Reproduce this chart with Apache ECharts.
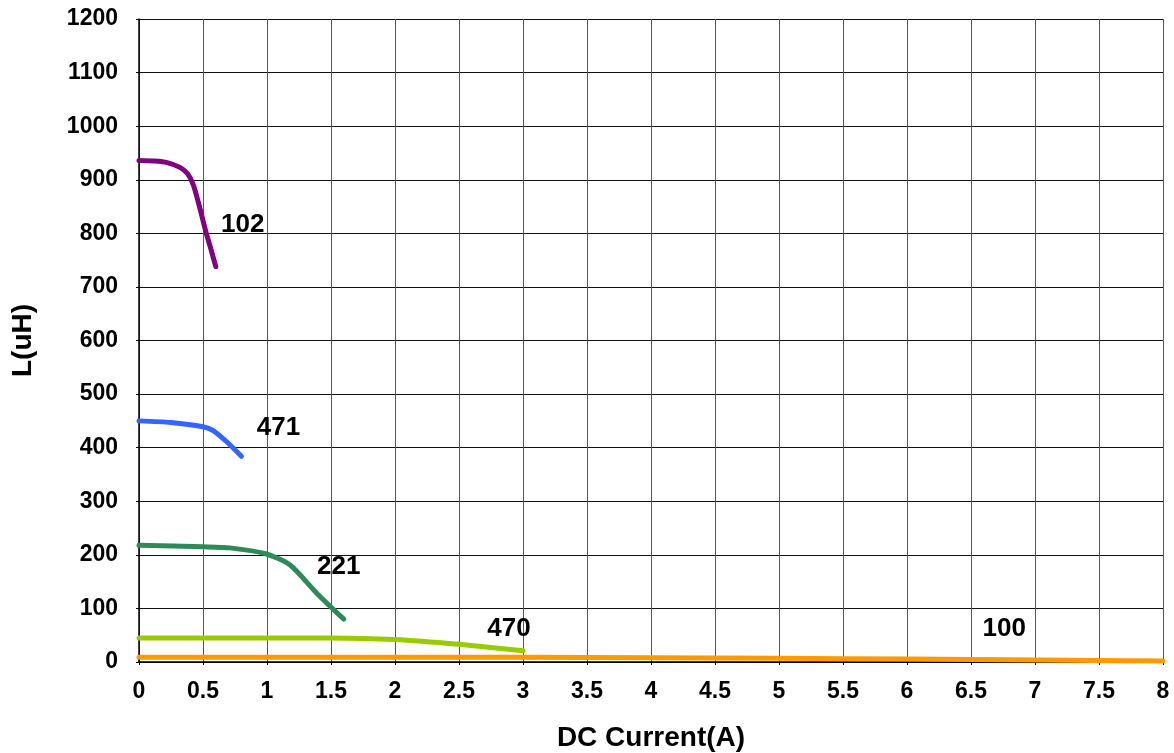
<!DOCTYPE html>
<html>
<head>
<meta charset="utf-8">
<script src="https://cdn.jsdelivr.net/npm/echarts@6/dist/echarts.min.js"></script>
<style>html,body{margin:0;padding:0;background:#fff}#c{width:1174px;height:753px}</style>
</head>
<body>
<div id="c"></div>
<script>
const xTicks = ['0','0.5','1','1.5','2','2.5','3','3.5','4','4.5','5','5.5','6','6.5','7','7.5','8'];
const yTicks = [0,100,200,300,400,500,600,700,800,900,1000,1100,1200];

const s102 = [[0,936],[0.12,935],[0.22,932],[0.32,923],[0.38,911],[0.425,890],[0.47,852],[0.52,805],[0.56,772],[0.6,738]];
const s471 = [[0,450],[0.25,447],[0.5,439],[0.58,432],[0.685,411],[0.8,384]];
const s221 = [[0,218],[0.5,215],[0.71,213],[0.99,202],[1.18,181],[1.39,128],[1.6,80]];
const s470 = [[0,45],[1,45],[1.5,45],[2,42],[2.5,33],[3,21]];
const s100 = [[0,9],[2,9],[3,9],[4,8],[5,7],[6,5.5],[7,3.5],[8,2]];

const names = ['102','471','221','470','100'];
const colors = ['#800080','#3366FF','#2E8B57','#99CC00','#FF9900'];
const labelPos = [[0.81,817],[1.09,438],[1.56,179],[2.89,63],[6.76,63]];

const FONT = 'Liberation Sans, Arial, sans-serif';
const chart = echarts.init(document.getElementById('c'));
const dataSets = [s102,s471,s221,s470,s100];
const series = dataSets.map((d,i)=>({
  name: names[i], type:'line', data:d, smooth:0.25, showSymbol:false, symbol:'none',
  lineStyle:{color:colors[i], width:5, cap:'round', join:'round'},
  emphasis:{disabled:true},
  z: 5
}));
series.push({
  type:'scatter', symbolSize:0, itemStyle:{color:'#fff'}, z:6, silent:true,
  emphasis:{disabled:true},
  data: labelPos.map((p,i)=>({value:p, name:names[i]})),
  label:{show:true, position:'top', distance:-14, formatter:(p)=>p.name, color:'#000', opacity:1, textBorderWidth:0, fontSize:26, fontWeight:'bold', fontFamily:FONT}
});
chart.setOption({
  animation:false,
  grid:{left:139, right:11, top:19, bottom:91, containLabel:false, outerBoundsMode:'none'},
  xAxis:{
    type:'value', min:0, max:8, interval:0.5,
    name:'DC Current(A)', nameLocation:'middle', nameGap:62,
    nameTextStyle:{fontSize:28, fontWeight:'bold', color:'#000', fontFamily:FONT},
    axisLine:{show:true, lineStyle:{color:'#000', width:1.5}},
    axisTick:{show:true, inside:false, length:3, lineStyle:{color:'#000'}},
    axisLabel:{margin:18, fontSize:23, fontWeight:'bold', color:'#000', fontFamily:FONT,
      formatter:(v)=>{const idx=Math.round(v*2); return xTicks[idx]!==undefined?xTicks[idx]:'';}},
    splitLine:{show:true, lineStyle:{color:'#555', width:1}}
  },
  yAxis:{
    type:'value', min:0, max:1200, interval:100,
    name:'L(uH)', nameLocation:'middle', nameGap:102, nameRotate:90,
    nameTextStyle:{fontSize:28, fontWeight:'bold', color:'#000', fontFamily:FONT},
    axisLine:{show:true, lineStyle:{color:'#000', width:1.5}},
    axisTick:{show:true, inside:false, length:3, lineStyle:{color:'#000'}},
    axisLabel:{margin:21, fontSize:23, fontWeight:'bold', color:'#000', fontFamily:FONT,
      formatter:(v)=>{const idx=Math.round(v/100); return yTicks[idx]!==undefined?String(yTicks[idx]):'';}},
    splitLine:{show:true, lineStyle:{color:'#111', width:1}}
  },
  series: series
});
</script>
</body>
</html>
